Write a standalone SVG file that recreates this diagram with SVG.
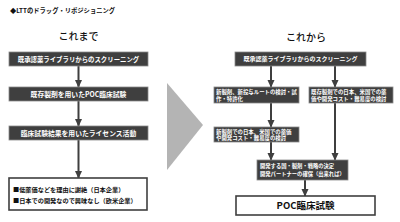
<svg xmlns="http://www.w3.org/2000/svg" width="400" height="222" viewBox="0 0 400 222">
<defs>
<style>
text{font-family:"Noto Sans CJK JP","Noto Sans",sans-serif;font-weight:bold;}
.hd{font-weight:500;}
.dark{fill:#3f3f3f;stroke:#8a8a8a;stroke-width:0.8;}
.light{fill:#ffffff;stroke:#3f3f3f;stroke-width:1.6;}
.wt{fill:#ffffff;text-anchor:middle;}
.wl{fill:#ffffff;}
.bk{fill:#111111;}
.conn{stroke:#3f3f3f;stroke-width:2;fill:none;marker-end:url(#ah);}
</style>
<marker id="ah" markerWidth="4" markerHeight="3.6" refX="3.6" refY="1.8" orient="auto" markerUnits="strokeWidth">
<path d="M0,0 L4,1.8 L0,3.6 Z" fill="#3f3f3f"/>
</marker>
</defs>
<rect width="400" height="222" fill="#ffffff"/>
<text x="10" y="13" font-size="6.3" class="bk">◆LTTのドラッグ・リポジショニング</text>
<text x="78.5" y="40" font-size="10" text-anchor="middle" class="bk hd">これまで</text>
<text x="306" y="41" font-size="10" text-anchor="middle" class="bk hd">これから</text>

<g id="connectors">
<line class="conn" x1="78.5" y1="66" x2="78.5" y2="87"/>
<line class="conn" x1="78.5" y1="101" x2="78.5" y2="126"/>
<line class="conn" x1="78.5" y1="140" x2="78.5" y2="178"/>
<line class="conn" x1="271" y1="66" x2="271" y2="87"/>
<line class="conn" x1="335" y1="66" x2="335" y2="87"/>
<line class="conn" x1="271" y1="103" x2="271" y2="127"/>
<line class="conn" x1="271" y1="142" x2="271" y2="160"/>
<line class="conn" x1="335" y1="103" x2="335" y2="160"/>
<line class="conn" x1="305" y1="180" x2="305" y2="196"/>
</g>

<g id="arrow-big"><polygon points="167,83 203,125 167,170" fill="#b4b4b4"/></g>

<g id="L1"><rect class="dark" x="9" y="52" width="139" height="14"/><text class="wt" x="78.5" y="61.5" font-size="6.4">既承認薬ライブラリからのスクリーニング</text></g>
<g id="L2"><rect class="dark" x="9" y="87" width="139" height="14"/><text class="wt" x="78.5" y="96.5" font-size="6.8">既存製剤を用いたPOC臨床試験</text></g>
<g id="L3"><rect class="dark" x="9" y="126" width="139" height="14"/><text class="wt" x="78.5" y="135.5" font-size="6.8">臨床試験結果を用いたライセンス活動</text></g>
<g id="L4"><rect class="light" x="9" y="178" width="138" height="32"/>
<text class="bk" x="13" y="191.5" font-size="6.2">■低薬価などを理由に謝絶（日本企業）</text>
<text class="bk" x="13" y="202.5" font-size="6.2">■日本での開発なので興味なし（欧米企業）</text></g>

<g id="R1"><rect class="dark" x="235" y="52" width="131" height="14"/><text class="wt" x="300.5" y="61.3" font-size="6">既承認薬ライブラリからのスクリーニング</text></g>
<g id="RA1"><rect class="dark" x="214" y="87" width="85" height="16"/>
<text class="wl" x="216" y="94" font-size="5.4">新製剤、新投与ルートの検討・試</text>
<text class="wl" x="216" y="100.5" font-size="5.4">作・特許化</text></g>
<g id="RB1"><rect class="dark" x="309" y="87" width="84" height="16"/>
<text class="wl" x="311" y="94" font-size="5.4">既存製剤での日本、米国での薬</text>
<text class="wl" x="311" y="100.5" font-size="5.4">価や開発コスト・難易度の検討</text></g>
<g id="RA2"><rect class="dark" x="214" y="127" width="85" height="15"/>
<text class="wl" x="216" y="133.5" font-size="5.4">新製剤での日本、米国での薬価</text>
<text class="wl" x="216" y="140" font-size="5.4">や開発コスト・難易度の検討</text></g>
<g id="RC"><rect class="dark" x="257" y="160" width="91" height="20"/>
<text class="wl" x="260" y="168" font-size="5.3">開発する国・製剤・戦略の決定</text>
<text class="wl" x="260" y="175.5" font-size="5.3">開発パートナーの確保（出来れば）</text></g>
<g id="RPOC"><rect class="light" x="236" y="196" width="139" height="19"/>
<text class="bk" x="305.5" y="209" font-size="9.5" text-anchor="middle">POC臨床試験</text></g>
</svg>
